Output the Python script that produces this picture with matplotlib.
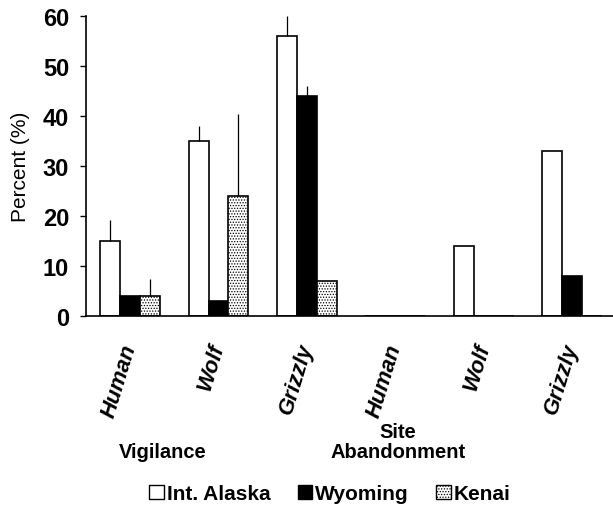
import matplotlib
matplotlib.use("Agg")
import matplotlib.pyplot as plt
import matplotlib.patches as mpatches
import numpy as np

plt.rcParams['font.family'] = ['Liberation Sans', 'DejaVu Sans']
plt.rcParams['hatch.linewidth'] = 0.6
plt.rcParams['hatch.color'] = '#555555'

# data
categories = ['Human', 'Wolf', 'Grizzly', 'Human', 'Wolf', 'Grizzly']
alaska = [15, 35, 56, 0, 14, 33]
wyoming = [4, 3, 44, 0, 0, 8]
kenai = [4, 24, 7, 0, 0, 0]
alaska_err = [4.3, 3, 4, 0, 0, 0]
wyoming_err = [0, 0, 2, 0, 0, 0]
kenai_err = [3.5, 16.5, 0, 0, 0, 0]

x = np.arange(len(categories))
w = 0.226

fig = plt.figure(figsize=(6.13, 5.06), dpi=100)
ax = fig.add_axes([0.140, 0.3735, 0.86, 0.5927])

ax.bar(x - w, alaska, w, color='white', edgecolor='black', linewidth=1.2)
ax.bar(x, wyoming, w, color='black', edgecolor='black', linewidth=1.2)
ax.bar(x + w, kenai, w, color='white', edgecolor='black', linewidth=1.2,
       hatch='......')

# one-sided upward error bars, no caps
for off, vals, errs in [(-w, alaska, alaska_err), (0, wyoming, wyoming_err),
                        (w, kenai, kenai_err)]:
    for xi, v, e in zip(x, vals, errs):
        if e > 0:
            ax.errorbar(xi + off, v, yerr=[[0], [e]], color='black',
                        linewidth=0.9, capsize=0)

ax.set_ylim(0, 60)
ax.set_xlim(-0.5, 5.46)
ax.set_yticks([0, 10, 20, 30, 40, 50, 60])
ax.tick_params(axis='y', direction='out', length=4, labelsize=17, width=1,
               pad=8)
for lab in ax.get_yticklabels():
    lab.set_fontweight('bold')
ax.set_ylabel('Percent (%)', fontsize=15, labelpad=9)

ax.set_xticks(x)
ax.set_xticklabels(categories, rotation=73, ha='right', va='center',
                   rotation_mode='anchor', fontsize=16, fontweight='bold',
                   fontstyle='italic')
ax.tick_params(axis='x', length=0, pad=20)

ax.spines['top'].set_visible(False)
ax.spines['right'].set_visible(False)
ax.spines['left'].set_linewidth(1.2)
ax.spines['bottom'].set_linewidth(1.2)

fig.text(0.266, 0.105, 'Vigilance', ha='center', va='center',
         fontsize=14.5, fontweight='bold')
fig.text(0.649, 0.1255, 'Site\nAbandonment', ha='center', va='center',
         fontsize=14.5, fontweight='bold', linespacing=1.05)

handles = [
    mpatches.Patch(facecolor='white', edgecolor='black', label='Int. Alaska'),
    mpatches.Patch(facecolor='black', edgecolor='black', label='Wyoming'),
    mpatches.Patch(facecolor='white', edgecolor='black', hatch='......',
                   label='Kenai'),
]
fig.legend(handles=handles, loc='center', bbox_to_anchor=(0.538, 0.022),
           ncol=3, frameon=False, handlelength=0.7, handleheight=0.7,
           handletextpad=0.15, columnspacing=1.3,
           prop={'size': 15, 'weight': 'bold'})

fig.savefig('out.png', dpi=100)
